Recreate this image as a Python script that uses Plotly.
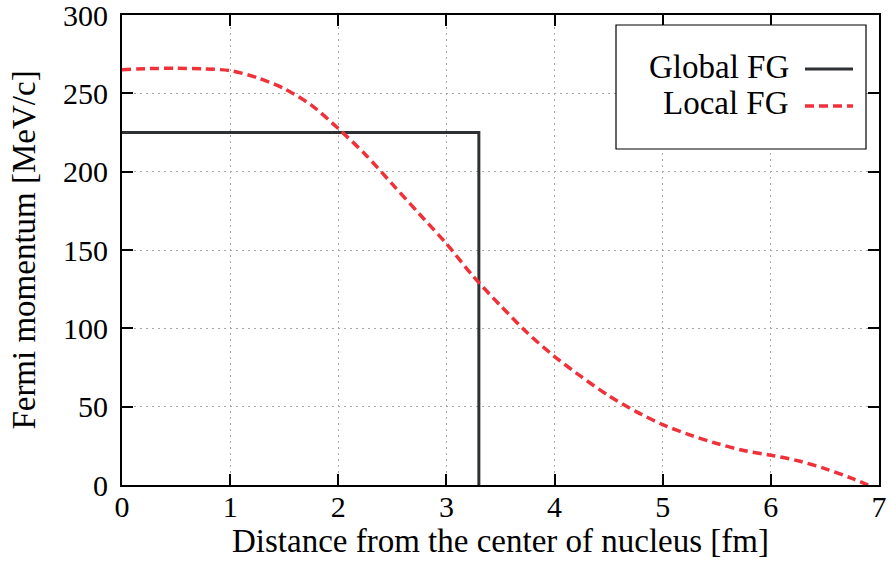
import plotly.graph_objects as go

# Global Fermi gas: constant momentum up to the nuclear radius, then zero
global_r = [0.0, 3.3, 3.3]
global_kf = [225, 225, 0]

# Local Fermi gas: momentum following the local nuclear density
local_r = [0.0, 0.25, 0.5, 0.75, 1.0, 1.25, 1.5, 1.75, 2.0, 2.25, 2.5, 2.75, 3.0,
           3.25, 3.5, 3.75, 4.0, 4.25, 4.5, 4.75, 5.0, 5.25, 5.5, 5.75, 6.0,
           6.25, 6.5, 6.75, 6.9]
local_kf = [265, 265.8, 266, 265.6, 264.5, 260, 253, 242.5, 227.5, 211, 192, 173, 154,
            133, 114.5, 97, 82, 69, 57, 47, 38.5, 32, 26.5, 22, 19, 15.5, 10.5, 4.2, 0]

x_ticks = [0, 1, 2, 3, 4, 5, 6, 7]
y_ticks = [0, 50, 100, 150, 200, 250, 300]

FONT = "Liberation Serif"
TICK_SIZE = 30
TEXT_SIZE = 33
GLOBAL_COLOR = "#2e3133"
LOCAL_COLOR = "#f0313a"

fig = go.Figure()
fig.add_trace(go.Scatter(x=global_r, y=global_kf, mode="lines", name="Global FG",
                         line=dict(color=GLOBAL_COLOR, width=3), showlegend=False))
fig.add_trace(go.Scatter(x=local_r, y=local_kf, mode="lines", name="Local FG",
                         line=dict(color=LOCAL_COLOR, width=3.5, dash="9px,5px",
                                   shape="spline", smoothing=0.8),
                         showlegend=False))

# Plot area in pixels, used to place the hand-drawn legend box
L, R, T, B = 122, 879, 15, 485
def px(xp):
    return (xp - L) / (R - L)
def py(yp):
    return (B - yp) / (B - T)

fig.add_shape(type="rect", xref="paper", yref="paper", x0=px(616), x1=px(866),
              y0=py(149), y1=py(25), line=dict(color="black", width=1.2),
              fillcolor="white", layer="above")
for yy, color, width, dash in [(69, GLOBAL_COLOR, 3, "solid"),
                               (106, LOCAL_COLOR, 3.5, "9px,5px")]:
    fig.add_shape(type="line", xref="paper", yref="paper", x0=px(805), x1=px(853),
                  y0=py(yy), y1=py(yy), line=dict(color=color, width=width, dash=dash),
                  layer="above")
for label, yy in [("Global FG", 67), ("Local FG", 103)]:
    fig.add_annotation(text=label, xref="paper", yref="paper", x=px(791), y=py(yy),
                       xanchor="right", yanchor="middle", showarrow=False,
                       font=dict(family=FONT, size=TEXT_SIZE, color="black"))

axis_common = dict(showline=True, linecolor="black", linewidth=2, mirror="ticks",
                   ticks="inside", ticklen=11, tickwidth=1.5, tickcolor="black",
                   showgrid=True, gridcolor="#a8a8a8", griddash="2px,4px", gridwidth=1,
                   zeroline=False, automargin=False, ticklabeloverflow="allow",
                   tickfont=dict(family=FONT, size=TICK_SIZE, color="black"))

fig.update_layout(
    width=891, height=565,
    margin=dict(l=L, r=891 - R, t=T, b=565 - B),
    paper_bgcolor="white", plot_bgcolor="white",
    xaxis=dict(range=[0, 7], tickvals=x_ticks, ticktext=[str(v) for v in x_ticks],
               ticklabelstandoff=-6,
               title=dict(text="Distance from the center of nucleus [fm]",
                          font=dict(family=FONT, size=TEXT_SIZE, color="black"), standoff=7),
               **axis_common),
    yaxis=dict(range=[0, 300], tickvals=y_ticks, ticktext=[str(v) for v in y_ticks],
               ticklabelstandoff=6,
               title=dict(text="Fermi momentum [MeV/c]",
                          font=dict(family=FONT, size=TEXT_SIZE, color="black"), standoff=17),
               **axis_common),
)

fig.write_html("out.html")
